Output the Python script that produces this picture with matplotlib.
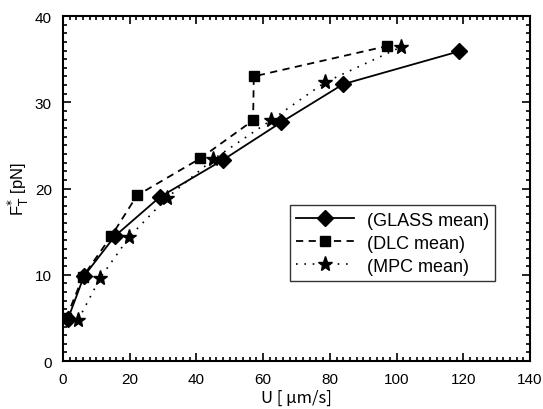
import matplotlib.pyplot as plt
from matplotlib.ticker import MultipleLocator

# data
glass_u = [1.5, 6.3, 15.6, 29.0, 47.9, 65.5, 84.0, 118.7]
glass_f = [4.9, 9.85, 14.5, 19.0, 23.3, 27.7, 32.1, 35.9]

dlc_u = [1.0, 6.0, 14.5, 22.2, 41.2, 57.0, 57.2, 97.0]
dlc_f = [5.0, 9.8, 14.5, 19.2, 23.5, 27.9, 33.0, 36.5]

mpc_u = [4.6, 11.1, 19.9, 31.1, 45.1, 62.3, 78.5, 101.3]
mpc_f = [4.8, 9.6, 14.4, 18.9, 23.4, 27.9, 32.3, 36.4]

plt.rcParams["font.family"] = ["Liberation Sans", "DejaVu Sans"]

fig = plt.figure(figsize=(5.43, 4.10), dpi=100)
ax = fig.add_axes([0.116, 0.117, 0.86, 0.8415])

ax.plot(mpc_u, mpc_f, ls=(0, (1, 4)), color="black", lw=1.2,
        marker="*", ms=11, label="(MPC mean)")
ax.plot(dlc_u, dlc_f, ls=(0, (4, 3)), color="black", lw=1.3,
        marker="s", ms=7.5, label="(DLC mean)")
ax.plot(glass_u, glass_f, ls="-", color="black", lw=1.3,
        marker="D", ms=8.5, label="(GLASS mean)")

ax.set_xlim(0, 140)
ax.set_ylim(0, 40)
ax.xaxis.set_major_locator(MultipleLocator(20))
ax.xaxis.set_minor_locator(MultipleLocator(2))
ax.yaxis.set_major_locator(MultipleLocator(10))
ax.yaxis.set_minor_locator(MultipleLocator(1))
ax.tick_params(which="both", direction="in", top=True, right=True,
               labelsize=11, width=1.2)
ax.tick_params(which="major", length=6, pad=8)
ax.tick_params(which="minor", length=3)
for s in ax.spines.values():
    s.set_linewidth(1.5)

ax.set_xlabel("U [ μm/s]", fontsize=12,
              family=["Noto Sans CJK JP", "DejaVu Sans"], labelpad=2)
ax.set_ylabel(r"F$^{*}_{\mathrm{T}}$ [pN]", fontsize=12, labelpad=3)

h, l = ax.get_legend_handles_labels()
leg = ax.legend(h[::-1], l[::-1], loc="lower left",
                bbox_to_anchor=(0.486, 0.232), borderaxespad=0,
                fontsize=13, frameon=True, fancybox=False,
                edgecolor="black", handlelength=3.2, handletextpad=0.7,
                borderpad=0.35, labelspacing=0.33)
leg.get_frame().set_linewidth(1.0)

fig.savefig("out.png", dpi=100)
